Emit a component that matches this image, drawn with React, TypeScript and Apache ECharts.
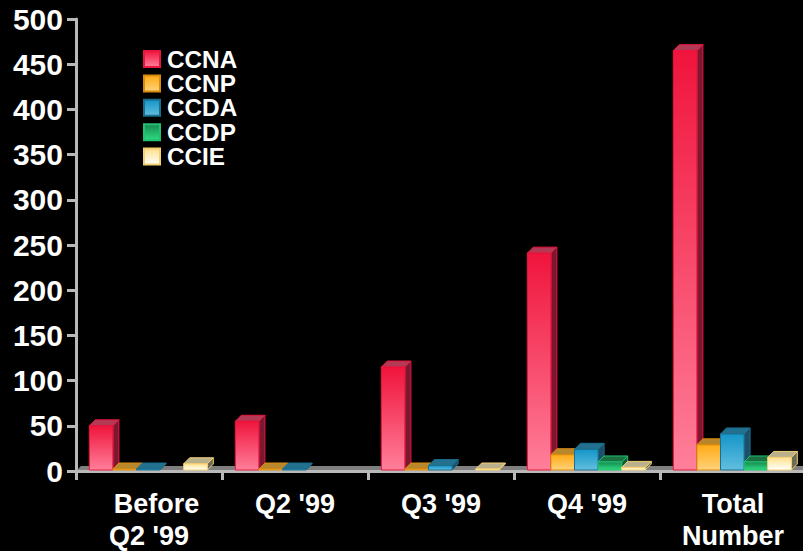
import React, { useEffect, useRef } from "react";
import * as echarts from "echarts";

const categories = ["  Before\nQ2 '99", "Q2 '99", "Q3 '99", "Q4 '99", "Total\nNumber"];
const yTicksMax = 500;
const ccna = [50, 55, 115, 241, 465];
const ccnp = [2, 1, 2, 18, 29];
const ccda = [1, 1, 6, 24, 41];
const ccdp = [0, 0, 0, 10, 10];
const ccie = [8, 0, 1, 4, 15];

const seriesNames = ["CCNA", "CCNP", "CCDA", "CCDP", "CCIE"];
const seriesValues = [ccna, ccnp, ccda, ccdp, ccie];
const palette = [
  { top: "#F0143C", bottom: "#FF7F9A", border: "#E8163F", cap: "#B23A55", side: "#7C1730" },
  { top: "#FFAA14", bottom: "#FFD27A", border: "#D98B10", cap: "#B8862B", side: "#8A6418" },
  { top: "#1496C8", bottom: "#62BEDF", border: "#1A6E8E", cap: "#23708F", side: "#1B5068" },
  { top: "#178A50", bottom: "#2EDC82", border: "#22C070", cap: "#1A7040", side: "#145A34" },
  { top: "#FFE08A", bottom: "#FFFFFF", border: "#F5D070", cap: "#B9B08E", side: "#6E6A58" },
];

const BAR = 23.6;
const DEPTH = 6;

function gradient(i: number) {
  return new echarts.graphic.LinearGradient(0, 0, 0, 1, [
    { offset: 0, color: palette[i].top },
    { offset: 1, color: palette[i].bottom },
  ]);
}

function barRenderer(s: number) {
  return (_: any, api: any) => {
    const value = api.value(1);
    const base = api.coord([api.value(0), 0]);
    const head = api.coord([api.value(0), value]);
    const x0 = base[0] - 59.7 + s * BAR;
    const x1 = x0 + BAR;
    const yb = base[1] - 1;
    const yt = Math.min(head[1], yb - 1);
    const c = palette[s];
    const line = { stroke: c.border, lineWidth: 1 };
    return {
      type: "group",
      children: [
        {
          type: "polygon",
          shape: { points: [[x1, yt], [x1 + DEPTH, yt - DEPTH], [x1 + DEPTH, yb - DEPTH], [x1, yb]] },
          style: { fill: c.side, ...line },
        },
        {
          type: "polygon",
          shape: { points: [[x0, yt], [x0 + DEPTH, yt - DEPTH], [x1 + DEPTH, yt - DEPTH], [x1, yt]] },
          style: { fill: c.cap, ...line },
        },
        {
          type: "rect",
          shape: { x: x0, y: yt, width: BAR, height: yb - yt },
          style: { fill: gradient(s), ...line },
        },
      ],
    };
  };
}

function floorRenderer(_: any, api: any) {
  const a = api.coord([0, 0]);
  const band = api.size([1, 0])[0];
  const y = a[1] - 1;
  const x0 = a[0] - band / 2;
  const x1 = x0 + band * categories.length;
  return {
    type: "polygon",
    shape: { points: [[x0 + 1, y], [x0 + 5, y - 4], [x1, y - 4], [x1, y]] },
    style: { fill: "#7F7F7F" },
  };
}

export default function App() {
  const ref = useRef<HTMLDivElement>(null);
  useEffect(() => {
    document.body.style.margin = "0";
    document.body.style.background = "#000";
    const chart = echarts.init(ref.current!, null, { renderer: "svg" });
    const font = "'Liberation Sans', Arial, sans-serif";
    const axisLine = { show: true, lineStyle: { color: "#B9B9B9", width: 3 } };
    const axisTick = { show: true, length: 9, lineStyle: { color: "#B9B9B9", width: 3 } };
    chart.setOption({
      animation: false,
      backgroundColor: "#000",
      grid: { left: 76, top: 19, width: 730, height: 452, outerBoundsMode: "none" },
      legend: {
        orient: "vertical",
        left: 143,
        top: 47,
        padding: 0,
        icon: "rect",
        itemWidth: 16,
        itemHeight: 16,
        itemGap: 0.4,
        data: seriesNames,
        selectedMode: false,
        textStyle: { color: "#fff", fontFamily: font, fontWeight: "bold", fontSize: 24.3, lineHeight: 24, padding: [0, 0, 0, 2] },
      },
      xAxis: {
        type: "category",
        data: categories,
        boundaryGap: true,
        axisLine,
        axisTick: { ...axisTick, alignWithLabel: false },
        axisLabel: {
          color: "#fff",
          fontFamily: font,
          fontWeight: "bold",
          fontSize: 27,
          lineHeight: 32,
          margin: 17,
          interval: 0,
        },
        splitLine: { show: false },
      },
      yAxis: {
        type: "value",
        min: 0,
        max: yTicksMax,
        interval: 50,
        axisLine,
        axisTick,
        axisLabel: { color: "#fff", fontFamily: font, fontWeight: "bold", fontSize: 30, margin: 13 },
        splitLine: { show: false },
      },
      series: [
        {
          type: "custom",
          name: "floor",
          data: [[0, 0]],
          renderItem: floorRenderer,
          encode: { x: 0, y: 1 },
          silent: true,
          z: 1,
          clip: false,
        },
        ...seriesNames.map((name, s) => ({
          type: "custom",
          name,
          z: 2 + s,
          clip: false,
          itemStyle: { color: gradient(s), borderColor: palette[s].border, borderWidth: 1 },
          encode: { x: 0, y: 1 },
          data: seriesValues[s].map((v, i) => [i, v]).filter((d) => d[1] > 0),
          renderItem: barRenderer(s),
        })),
      ],
    });
    return () => chart.dispose();
  }, []);
  return <div ref={ref} style={{ position: "absolute", left: 0, top: 0, width: 803, height: 551 }} />;
}
